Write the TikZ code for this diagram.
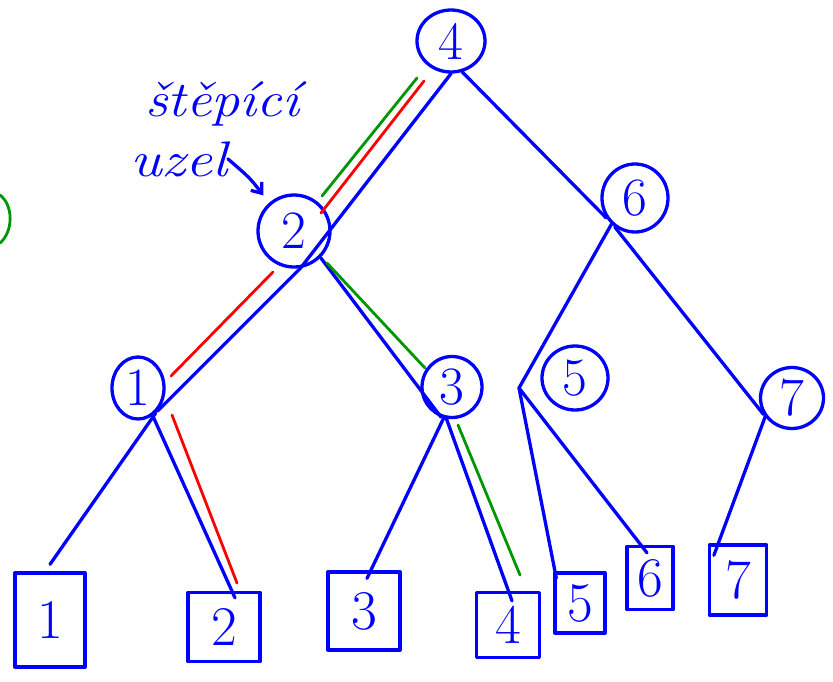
\documentclass[tikz,border=0pt]{standalone}
\usepackage{fontspec}
\usetikzlibrary{shapes.geometric,arrows.meta,calc}
\definecolor{pgreen}{RGB}{0,150,0}
\begin{document}
\begin{tikzpicture}[x=1pt,y=-1pt,
  ink/.style={draw=blue,line width=3.3pt,line cap=round,line join=round},
  inode/.style={ellipse,ink,inner sep=0pt,text=blue,font=\fontsize{54}{54}\selectfont},
  leaf/.style={rectangle,ink,inner sep=0pt,text=blue,font=\fontsize{56}{56}\selectfont},
  edge/.style={blue,line width=3.3pt,line cap=round,line join=round},
  hlred/.style={red,line width=2.8pt,line cap=round},
  hlgreen/.style={pgreen,line width=2.8pt,line cap=round},
  note/.style={text=blue,inner sep=0pt,font=\itshape\fontsize{50}{50}\selectfont}]
\useasboundingbox (0,0) rectangle (833,681);

% inner nodes
\node[inode,minimum width=68pt,minimum height=62pt] (n4) at (451,41) {4};
\node[inode,minimum width=66pt,minimum height=68pt] (n6) at (635,198) {6};
\node[inode,minimum width=72pt,minimum height=72pt] (n2) at (294,231) {2};
\node[inode,minimum width=52pt,minimum height=62pt] (n1) at (138,388) {1};
\node[inode,minimum width=60pt,minimum height=61pt] (n3) at (452,387) {3};
\node[inode,minimum width=66pt,minimum height=64pt] (n5) at (575,378) {5};
\node[inode,minimum width=63pt,minimum height=61pt] (n7) at (792,398) {7};

% leaves
\node[leaf,minimum width=70pt,minimum height=94pt] (l1) at (50,620) {1};
\node[leaf,minimum width=72pt,minimum height=69pt] (l2) at (224,627) {2};
\node[leaf,minimum width=72pt,minimum height=78pt] (l3) at (364,611) {3};
\node[leaf,minimum width=63pt,minimum height=65pt] (l4) at (508,625) {4};
\node[leaf,minimum width=50pt,minimum height=60pt] (l5) at (580,603) {5};
\node[leaf,minimum width=46pt,minimum height=63pt] (l6) at (650,578) {6};
\node[leaf,minimum width=57pt,minimum height=70pt] (l7) at (738,580) {7};

\coordinate (v) at (519,388);

% edges
\draw[edge] (n4.south) -- (n2.-80) -- (n1.-50);
\draw[edge] (n4.-70) -- (n6.215);
\draw[edge] (n2.-45) -- (n3.-110);
\draw[edge] (n6.228) -- (v);
\draw[edge] (v) -- ([xshift=3pt,yshift=-7pt]l5.north west);
\draw[edge] (v) -- ([xshift=-3pt,yshift=-8pt]l6.north);
\draw[edge] (n6.235) -- (n7.210);
\draw[edge] (n7.215) -- ([xshift=6pt,yshift=-12pt]l7.north west);
\draw[edge] (n1.-55) -- ([yshift=7pt]l1.north);
\draw[edge] (n1.-62) -- ([xshift=11pt,yshift=-7pt]l2.north);
\draw[edge] (n3.-105) -- ([xshift=3pt,yshift=-8pt]l3.north);
\draw[edge] (n3.-100) -- ([xshift=4pt,yshift=-10pt]l4.north);

% highlighted paths
\draw[hlgreen] (417,78) -- (322,196);
\draw[hlred] (424,81) -- (321,213);
\draw[hlred] (273,272) -- (171,376);
\draw[hlred] (172,415) -- (237,583);
\draw[hlgreen] (327,263) -- (425,368);
\draw[hlgreen] (458,425) -- (520,575);
\draw[hlgreen] (0,195) .. controls (14,206) and (13,232) .. (0,243);

% annotation
\node[note,anchor=base west] (t1) at (145,116) {\scalebox{1.13}[1]{štěpící}};
\node[note,anchor=base west] (t2) at (130,176) {\scalebox{1.2}[1]{uzel}};
\draw[edge,-{Straight Barb[length=9pt,width=14pt]}] (t2.east) .. controls (250,178) .. ([xshift=-4pt,yshift=9pt]n2.north west);
\end{tikzpicture}
\end{document}
